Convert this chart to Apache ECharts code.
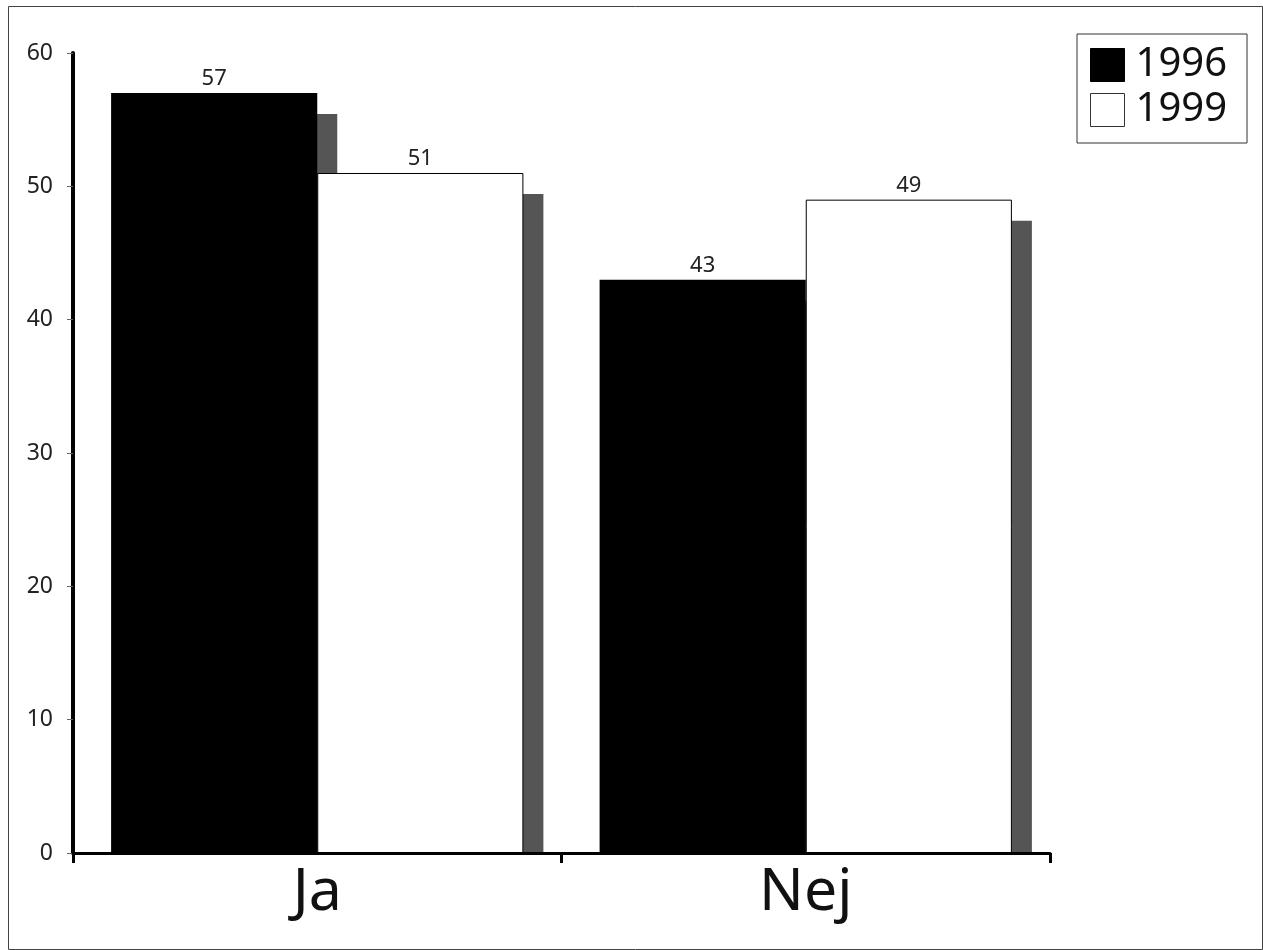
<!DOCTYPE html>
<html>
<head>
<meta charset="utf-8">
<script src="https://cdn.jsdelivr.net/npm/echarts@6/dist/echarts.min.js"></script>
<style>
html,body{margin:0;padding:0;background:#fff;}
#chart{width:1263px;height:950px;}
</style>
</head>
<body>
<div id="chart"></div>
<script>
const categories = ['Ja', 'Nej'];
const seriesNames = ['1996', '1999'];
const values1996 = [57, 43];
const values1999 = [51, 49];
const yTicks = [0, 10, 20, 30, 40, 50, 60];

const FONT = '"Noto Sans", "DejaVu Sans", sans-serif';
const CAT_GAP = 0.156;
const SHADOW_DX = 20, SHADOW_DY = 21;

// shadow data: [categoryIndex, seriesIndex, value]
const shadowData = [];
categories.forEach((c, i) => {
  shadowData.push([i, 0, values1996[i]]);
  shadowData.push([i, 1, values1999[i]]);
});

function renderShadow(params, api) {
  const ci = api.value(0), si = api.value(1), v = api.value(2);
  const top = api.coord([ci, v]);
  const base = api.coord([ci, 0]);
  const band = api.size([1, 0])[0];
  const bw = band * (1 - CAT_GAP) / 2;
  const x0 = top[0] - bw + si * bw;
  return {
    type: 'rect',
    shape: { x: x0 + SHADOW_DX, y: top[1] + SHADOW_DY, width: bw, height: base[1] - top[1] - SHADOW_DY },
    style: { fill: '#555555' }
  };
}

const chart = echarts.init(document.getElementById('chart'), null, { renderer: 'canvas' });
chart.setOption({
  backgroundColor: '#ffffff',
  animation: false,
  textStyle: { fontFamily: FONT },
  graphic: [{
    type: 'rect',
    shape: { x: 8.5, y: 6.5, width: 1254, height: 943 },
    style: { fill: 'none', stroke: '#444', lineWidth: 1 },
    z: 0
  }],
  grid: { left: 73, right: 213, top: 53, bottom: 97, containLabel: false },
  legend: {
    orient: 'vertical',
    left: 1077, top: 34,
    padding: [11, 20, 13, 13],
    borderColor: '#333', borderWidth: 1,
    itemWidth: 34, itemHeight: 33, itemGap: 5,
    icon: 'rect',
    textStyle: { fontSize: 40, lineHeight: 33, color: '#111', fontFamily: FONT, padding: [0, 0, 0, 6] },
    data: [
      { name: seriesNames[0], itemStyle: { color: '#000', borderColor: '#000', borderWidth: 1 } },
      { name: seriesNames[1], itemStyle: { color: '#fff', borderColor: '#333', borderWidth: 1 } }
    ]
  },
  xAxis: {
    type: 'category',
    data: categories,
    z: 10,
    axisLine: { lineStyle: { color: '#000', width: 3 } },
    axisTick: { show: true, length: 10, lineStyle: { color: '#000', width: 3 } },
    axisLabel: { fontSize: 59, color: '#111', margin: 11, fontFamily: FONT }
  },
  yAxis: {
    type: 'value',
    min: yTicks[0], max: yTicks[yTicks.length - 1], interval: 10,
    z: 10,
    axisLine: { show: true, lineStyle: { color: '#000', width: 4 } },
    axisTick: { show: true, length: 6, lineStyle: { color: '#666', width: 1 } },
    splitLine: { show: false },
    axisLabel: { fontSize: 23, color: '#222', margin: 20, fontFamily: FONT }
  },
  series: [
    {
      name: 'shadow', type: 'custom', renderItem: renderShadow,
      data: shadowData, z: 1, silent: true,
      encode: { x: 0, y: 2 }
    },
    {
      name: seriesNames[0], type: 'bar', data: values1996, z: 2,
      barGap: '0%', barCategoryGap: (CAT_GAP * 100) + '%',
      itemStyle: { color: '#000', borderColor: '#000', borderWidth: 0 },
      label: { show: true, position: 'top', distance: 3, fontSize: 22, color: '#222', fontFamily: FONT }
    },
    {
      name: seriesNames[1], type: 'bar', data: values1999, z: 2,
      barGap: '0%', barCategoryGap: (CAT_GAP * 100) + '%',
      itemStyle: { color: '#fff', borderColor: '#000', borderWidth: 1 },
      label: { show: true, position: 'top', distance: 3, fontSize: 22, color: '#222', fontFamily: FONT }
    }
  ]
});
</script>
</body>
</html>
